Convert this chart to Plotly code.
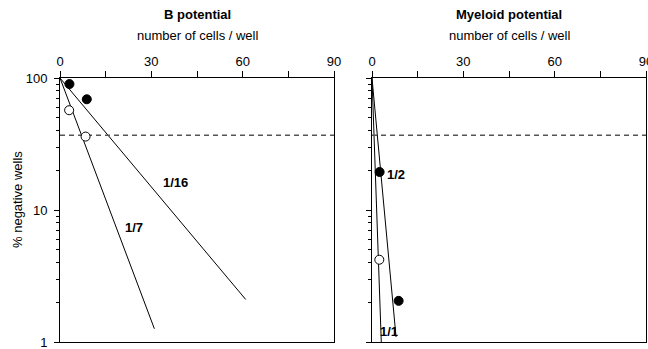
import math
import plotly.graph_objects as go

# ---- data ----
panel_titles = ["B potential", "Myeloid potential"]
x_title = "number of cells / well"
y_title = "% negative wells"
x_tickvals = [0, 30, 60, 90]
y_tickvals = [1, 10, 100]
y_ticklabels = ["1", "10", "100"]

# B potential
b_filled_cells = [3.1, 8.8]
b_filled_pct = [90, 69]
b_open_cells = [3.0, 8.4]
b_open_pct = [57, 36]
b_fit_7_cells = [0, 31]
b_fit_7_pct = [100, 1.26]
b_fit_16_cells = [0, 61]
b_fit_16_pct = [100, 2.1]

# Myeloid potential
m_filled_cells = [2.5, 8.75]
m_filled_pct = [19.4, 2.05]
m_open_cells = [2.4]
m_open_pct = [4.2]
m_fit_2_cells = [0, 7.9]
m_fit_2_pct = [100, 1.09]
m_fit_1_cells = [0, 3.05]
m_fit_1_pct = [100, 1.0]

threshold_pct = 100 / math.e  # 37 %

FONT = "Arial, Liberation Sans, Helvetica, sans-serif"
W, H = 648, 349
ML, MR, MT, MB = 60, 2, 78, 7

fig = go.Figure()

def add_panel(xa, ya, fits, filled, opened):
    for (cx, cy) in fits:
        fig.add_trace(go.Scatter(x=cx, y=cy, mode="lines", xaxis=xa, yaxis=ya,
                                 line=dict(color="black", width=1), showlegend=False,
                                 hoverinfo="skip"))
    # threshold line
    fig.add_trace(go.Scatter(x=[0, 90], y=[threshold_pct, threshold_pct], mode="lines",
                             xaxis=xa, yaxis=ya, showlegend=False, hoverinfo="skip",
                             line=dict(color="#555555", width=1.5, dash="5px,4px")))
    fig.add_trace(go.Scatter(x=filled[0], y=filled[1], mode="markers", xaxis=xa, yaxis=ya,
                             marker=dict(size=9, color="black", line=dict(color="black", width=1)),
                             showlegend=False))
    fig.add_trace(go.Scatter(x=opened[0], y=opened[1], mode="markers", xaxis=xa, yaxis=ya,
                             marker=dict(size=9, color="white", line=dict(color="black", width=1)),
                             showlegend=False))

add_panel("x", "y", [(b_fit_7_cells, b_fit_7_pct), (b_fit_16_cells, b_fit_16_pct)],
          (b_filled_cells, b_filled_pct), (b_open_cells, b_open_pct))
add_panel("x2", "y2", [(m_fit_2_cells, m_fit_2_pct), (m_fit_1_cells, m_fit_1_pct)],
          (m_filled_cells, m_filled_pct), (m_open_cells, m_open_pct))

pw = W - ML - MR
d1 = [0, 274 / pw]
d2 = [(372 - ML) / pw, 1]

xcommon = dict(range=[0, 90], side="top", tickvals=x_tickvals, ticks="outside", ticklen=6,
               tickwidth=1, tickcolor="black", showline=True, linecolor="black", linewidth=1,
               mirror=True, showgrid=False, zeroline=False, automargin=False,
               ticklabeloverflow="allow",
               minor=dict(tickvals=[15, 45, 75], ticks="outside", ticklen=6, tickcolor="black"),
               tickfont=dict(family=FONT, size=13, color="black"))
minor_y = [v * m for v in [1, 10] for m in range(2, 10)]
ycommon = dict(type="log", range=[0, 2], tickvals=y_tickvals, ticktext=y_ticklabels,
               ticks="outside", ticklen=5, tickwidth=1, tickcolor="black", showline=True,
               linecolor="black", linewidth=1, mirror=True, showgrid=False, zeroline=False,
               automargin=False, ticklabeloverflow="allow",
               minor=dict(tickvals=minor_y, ticks="outside", ticklen=3, tickcolor="black"),
               tickfont=dict(family=FONT, size=13, color="black"), ticklabelstandoff=4)

fig.update_layout(
    template="none",
    width=W, height=H,
    margin=dict(l=ML, r=MR, t=MT, b=MB, autoexpand=False),
    paper_bgcolor="white", plot_bgcolor="white",
    font=dict(family=FONT, size=13, color="black"),
    xaxis=dict(domain=d1, anchor="y", **xcommon),
    yaxis=dict(domain=[0, 1], anchor="x", **ycommon),
    xaxis2=dict(domain=d2, anchor="y2", **xcommon),
    yaxis2=dict(domain=[0, 1], anchor="x2", showticklabels=False, **ycommon),
)

def px_x(p):
    return (p - ML) / pw

def px_y(p):
    return 1 - (p - MT) / (H - MT - MB)

centers = [(60 + 334) / 2, (372 + 646) / 2]
anns = []
for c, t in zip(centers, panel_titles):
    anns.append(dict(x=px_x(c), y=px_y(14), xref="paper", yref="paper", text="<b>%s</b>" % t,
                     showarrow=False, font=dict(size=13, family=FONT), xanchor="center",
                     yanchor="middle"))
    anns.append(dict(x=px_x(c), y=px_y(36), xref="paper", yref="paper", text=x_title,
                     showarrow=False, font=dict(size=13, family=FONT), xanchor="center",
                     yanchor="middle"))
anns.append(dict(x=px_x(17), y=px_y(200), xref="paper", yref="paper", text=y_title,
                 textangle=-90, showarrow=False, font=dict(size=13, family=FONT),
                 xanchor="center", yanchor="middle"))

# fit labels (data coordinates)
for xr, yr, xv, yv, txt in [("x", "y", 37.8, 16.2, "1/16"), ("x", "y", 24.2, 7.4, "1/7"),
                            ("x2", "y2", 7.75, 18.6, "1/2"), ("x2", "y2", 5.6, 1.21, "1/1")]:
    anns.append(dict(x=xv, y=math.log10(yv), xref=xr, yref=yr, text="<b>%s</b>" % txt,
                     showarrow=False, font=dict(size=13, family=FONT), xanchor="center",
                     yanchor="middle"))
fig.update_layout(annotations=anns)

fig.write_html(
    "out.html",
    config={"displayModeBar": False},
    post_script=("document.documentElement.style.margin='0';"
                 "document.documentElement.style.overflow='hidden';"
                 "document.body.style.margin='0';"
                 "document.body.style.overflow='hidden';"),
)
